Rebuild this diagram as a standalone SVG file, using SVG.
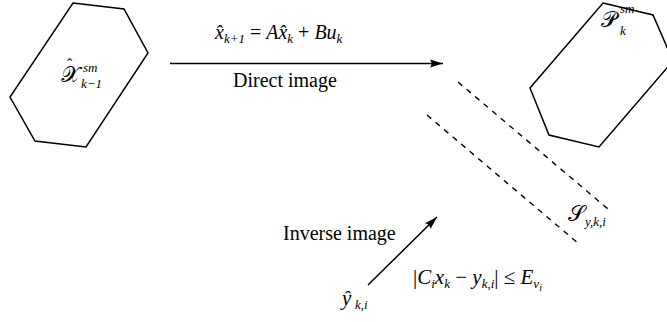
<svg xmlns="http://www.w3.org/2000/svg" width="667" height="322" viewBox="0 0 667 322">
<defs>
<marker id="ah" markerWidth="13" markerHeight="9" refX="13" refY="4.5" orient="auto" markerUnits="userSpaceOnUse">
<path d="M0,0.5 L13,4.5 L0,8.5 Q3,4.5 0,0.5z" fill="#000"/>
</marker>
</defs>
<g id="X_prev">
<polygon fill="none" stroke="#000" stroke-width="1.5" points="73,3 124,9 148,53 86,147 35,141 10,97"/>
<text font-family="Liberation Serif" font-size="22" x="61" y="82">𝒳</text>
<text font-family="Liberation Serif" font-size="16" x="67" y="70">ˆ</text>
<text font-family="Liberation Serif" font-size="13" font-style="italic" x="83" y="72">sm</text>
<text font-family="Liberation Serif" font-size="13" font-style="italic" x="81" y="88">k−1</text>
</g>
<g id="P_k">
<polygon fill="none" stroke="#000" stroke-width="1.5" points="603,3 653,15 673,61 599,147 549,135 530,88"/>
<text font-family="Liberation Serif" font-size="22" x="601" y="27">𝒫</text>
<text font-family="Liberation Serif" font-size="13" font-style="italic" x="620" y="13">sm</text>
<text font-family="Liberation Serif" font-size="13" font-style="italic" x="620" y="35">k</text>
</g>
<g id="S_strip">
<g fill="none" stroke="#000" stroke-width="1.4" stroke-dasharray="5.6 5.6">
<line x1="458" y1="82" x2="608" y2="209"/>
<line x1="427" y1="115" x2="579" y2="244"/>
</g>
<text font-family="Liberation Serif" font-size="22" x="568" y="221">𝒮</text>
<text font-family="Liberation Serif" font-size="13" font-style="italic" x="585" y="226">y,k,i</text>
</g>
<g id="y_hat">
<text font-family="Liberation Serif" font-size="21" font-style="italic" x="342" y="305">ŷ</text>
<text font-family="Liberation Serif" font-size="13" font-style="italic" x="355" y="309">k,i</text>
</g>
<g id="connectors" fill="none" stroke="#000" stroke-width="1.5">
<line x1="170" y1="63.5" x2="443" y2="63.5" marker-end="url(#ah)"/>
<line x1="368" y1="285" x2="437" y2="217" marker-end="url(#ah)"/>
</g>
<g id="labels">
<text font-family="Liberation Serif" font-size="20" font-style="italic" x="215" y="39">x̂<tspan font-size="13" dy="4">k+1</tspan><tspan font-style="normal" font-size="20" dy="-4"> = </tspan>Ax̂<tspan font-size="13" dy="4">k</tspan><tspan font-style="normal" font-size="20" dy="-4"> + </tspan>Bu<tspan font-size="13" dy="4">k</tspan></text>
<text font-family="Liberation Serif" font-size="20" x="233" y="87">Direct image</text>
<text font-family="Liberation Serif" font-size="20" x="283" y="240">Inverse image</text>
<text font-family="Liberation Serif" font-size="21" font-style="italic" x="413" y="284"><tspan font-style="normal">|</tspan>C<tspan font-size="13" dy="4">i</tspan><tspan dy="-4">x</tspan><tspan font-size="13" dy="4">k</tspan><tspan font-style="normal" dy="-4"> − </tspan>y<tspan font-size="13" dy="4">k,i</tspan><tspan font-style="normal" dy="-4">| ≤ </tspan>E<tspan font-size="13" dy="4">v</tspan><tspan font-size="10" dy="3">i</tspan></text>
</g>
</svg>
